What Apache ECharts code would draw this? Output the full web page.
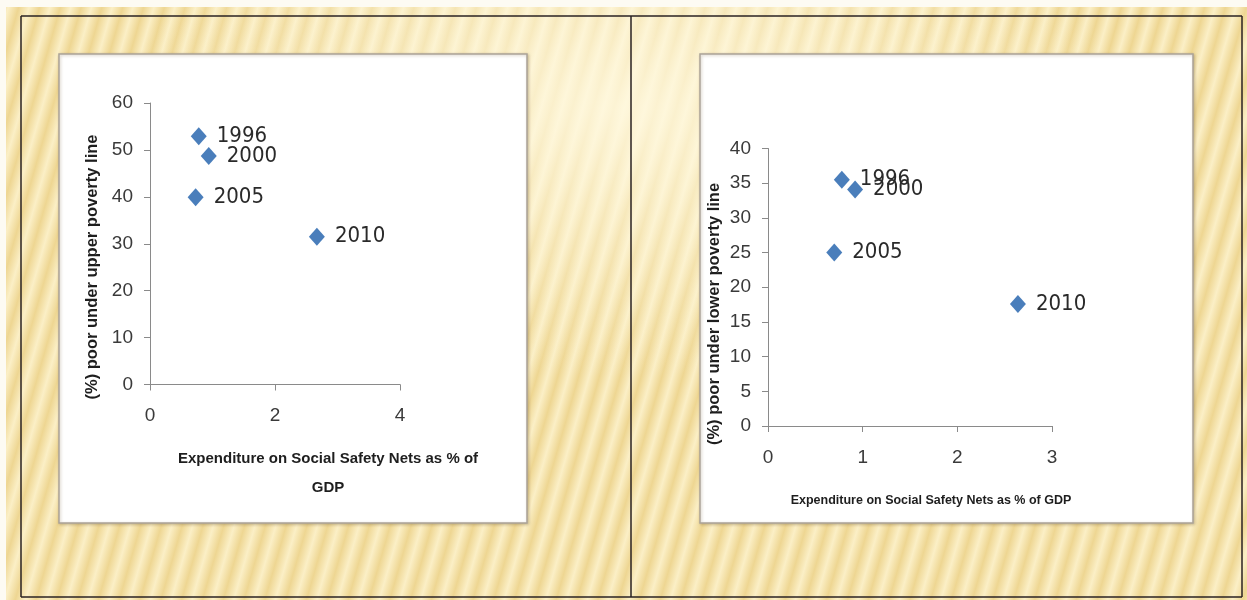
<!DOCTYPE html>
<html>
<head>
<meta charset="utf-8">
<script src="https://cdn.jsdelivr.net/npm/echarts@6/dist/echarts.min.js"></script>
<style>
  html, body { margin:0; padding:0; }
  body {
    width:1247px; height:600px; overflow:hidden;
    background:
      linear-gradient(to bottom, #fdfbf3 0px, #fdfbf3 7px, rgba(0,0,0,0) 7px),
      linear-gradient(to right, #fdfbf3 0px, #fdfbf3 6px, rgba(0,0,0,0) 6px),
      radial-gradient(ellipse 40% 45% at 50% 18%, rgba(255,249,225,0.85), rgba(255,249,225,0) 100%),
      repeating-linear-gradient(106deg, #eed692 0px, #fbefc6 10px, #eed692 20px);
  }
  #chart { width:1247px; height:600px; }
</style>
</head>
<body>
<div id="chart"></div>
<script>
// ---- data ----
const years = ['1996', '2000', '2005', '2010'];
const expenditureLeft = [0.78, 0.94, 0.73, 2.67];   // % of GDP
const upperPoverty   = [52.9, 48.7, 39.9, 31.5];    // % poor under upper poverty line
const expenditureRight = [0.78, 0.92, 0.70, 2.64];  // % of GDP
const lowerPoverty   = [35.5, 34.1, 25.0, 17.6];    // % poor under lower poverty line
const leftXTicks = [0, 2, 4];
const leftYTicks = [0, 10, 20, 30, 40, 50, 60];
const rightXTicks = [0, 1, 2, 3];
const rightYTicks = [0, 5, 10, 15, 20, 25, 30, 35, 40];

const xTitle = 'Expenditure on Social Safety Nets as % of GDP';
const yTitleLeft = '(%) poor under upper poverty line';
const yTitleRight = '(%) poor under lower poverty line';

const axisColor = '#8a8a8a';
const labelColor = '#3a3a3a';
const markerColor = '#4a7ebb';
const titleFont = '"Liberation Sans", Arial, sans-serif';
const labelFont = '"DejaVu Sans Condensed", "Liberation Sans", sans-serif';

function pts(xs, ys) { return xs.map((x, i) => [x, ys[i], years[i]]); }

function xAxis(gridIndex, ticks) {
  return {
    type: 'value', gridIndex,
    min: ticks[0], max: ticks[ticks.length - 1], interval: ticks[1] - ticks[0],
    splitLine: { show: false },
    axisLine: { onZero: false, lineStyle: { color: axisColor, width: 1 } },
    axisTick: { show: true, inside: false, length: 6, lineStyle: { color: axisColor } },
    axisLabel: { margin: 22, fontSize: 19, color: labelColor, fontFamily: titleFont }
  };
}
function yAxis(gridIndex, ticks) {
  return {
    type: 'value', gridIndex,
    min: ticks[0], max: ticks[ticks.length - 1], interval: ticks[1] - ticks[0],
    splitLine: { show: false },
    axisLine: { show: true, onZero: false, lineStyle: { color: axisColor, width: 1 } },
    axisTick: { show: true, inside: false, length: 6, lineStyle: { color: axisColor } },
    axisLabel: { margin: 17, fontSize: 19, color: labelColor, fontFamily: titleFont }
  };
}
function scatter(xi, yi, data) {
  return {
    type: 'scatter', xAxisIndex: xi, yAxisIndex: yi, data,
    symbol: 'diamond', symbolSize: [16, 18],
    itemStyle: { color: markerColor, opacity: 1 },
    label: {
      show: true, position: 'right', distance: 10,
      formatter: p => p.data[2],
      fontSize: 22, color: '#2a2a2a', fontFamily: labelFont
    },
    emphasis: { disabled: true }
  };
}

const chart = echarts.init(document.getElementById('chart'), null, { renderer: 'canvas' });
chart.setOption({
  backgroundColor: 'transparent',
  animation: false,
  grid: [
    { left: 150, top: 103, width: 250, height: 281.5 },
    { left: 768, top: 148.5, width: 284, height: 277.5 }
  ],
  xAxis: [xAxis(0, leftXTicks), xAxis(1, rightXTicks)],
  yAxis: [yAxis(0, leftYTicks), yAxis(1, rightYTicks)],
  series: [
    scatter(0, 0, pts(expenditureLeft, upperPoverty)),
    scatter(1, 1, pts(expenditureRight, lowerPoverty))
  ],
  graphic: [
    // outer frame lines
    { type: 'line', z: -10, shape: { x1: 21, y1: 16, x2: 1242, y2: 16 }, style: { stroke: '#2a2222', lineWidth: 1.5 } },
    { type: 'line', z: -10, shape: { x1: 21, y1: 597, x2: 1242, y2: 597 }, style: { stroke: '#2a2222', lineWidth: 1.5 } },
    { type: 'line', z: -10, shape: { x1: 21, y1: 16, x2: 21, y2: 597 }, style: { stroke: '#2a2222', lineWidth: 1.5 } },
    { type: 'line', z: -10, shape: { x1: 631, y1: 16, x2: 631, y2: 597 }, style: { stroke: '#2a2222', lineWidth: 1.5 } },
    { type: 'line', z: -10, shape: { x1: 1242, y1: 16, x2: 1242, y2: 597 }, style: { stroke: '#2a2222', lineWidth: 1.5 } },
    // white chart areas
    { type: 'rect', z: -5, shape: { x: 59, y: 54, width: 468, height: 469 },
      style: { fill: '#ffffff', stroke: '#aaa398', lineWidth: 1.5, shadowBlur: 3, shadowColor: 'rgba(120,100,60,0.35)', shadowOffsetX: 1, shadowOffsetY: 1 } },
    { type: 'rect', z: -5, shape: { x: 700, y: 54, width: 493, height: 469 },
      style: { fill: '#ffffff', stroke: '#aaa398', lineWidth: 1.5, shadowBlur: 3, shadowColor: 'rgba(120,100,60,0.35)', shadowOffsetX: 1, shadowOffsetY: 1 } },
    // axis titles, left chart
    { type: 'text', x: 328, y: 459, style: { text: 'Expenditure on Social Safety Nets as % of', fill: '#1e1e1e', font: 'bold 15px ' + titleFont, textAlign: 'center', textVerticalAlign: 'middle' } },
    { type: 'text', x: 328, y: 488, style: { text: 'GDP', fill: '#1e1e1e', font: 'bold 15px ' + titleFont, textAlign: 'center', textVerticalAlign: 'middle' } },
    { type: 'text', x: 92, y: 267, rotation: Math.PI / 2, style: { text: yTitleLeft, fill: '#1e1e1e', font: 'bold 16.5px ' + titleFont, textAlign: 'center', textVerticalAlign: 'middle' } },
    // axis titles, right chart
    { type: 'text', x: 931, y: 501, style: { text: xTitle, fill: '#1e1e1e', font: 'bold 12.5px ' + titleFont, textAlign: 'center', textVerticalAlign: 'middle' } },
    { type: 'text', x: 714, y: 314, rotation: Math.PI / 2, style: { text: yTitleRight, fill: '#1e1e1e', font: 'bold 16.5px ' + titleFont, textAlign: 'center', textVerticalAlign: 'middle' } }
  ]
});
</script>
</body>
</html>
